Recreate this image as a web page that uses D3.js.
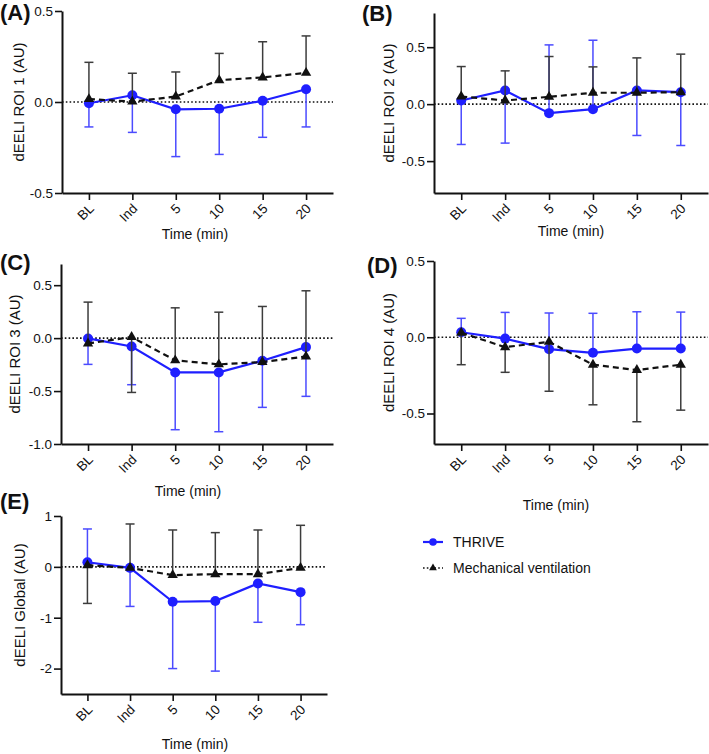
<!DOCTYPE html>
<html>
<head>
<meta charset="utf-8">
<script src="https://cdn.jsdelivr.net/npm/d3@7"></script>
<style>
  html, body { margin: 0; padding: 0; background: #fff; }
  svg { display: block; font-family: "Liberation Sans", Arial, Helvetica, sans-serif; }
</style>
</head>
<body>
<svg id="chart" width="709" height="754"></svg>
<script>
// ---------------- DATA ----------------
const categories = ["BL", "Ind", "5", "10", "15", "20"];
const seriesNames = ["THRIVE", "Mechanical ventilation"];

// Panel A – ROI 1
const thriveA = [-0.007, 0.037, -0.040, -0.037, 0.007, 0.070];
const thriveSdA = [-0.130, -0.204, -0.260, -0.251, -0.201, -0.207];
const mvA = [0.016, 0.002, 0.030, 0.120, 0.135, 0.160];
const mvSdA = [0.202, 0.156, 0.135, 0.147, 0.196, 0.203];
const ticksA = [-0.5, 0, 0.5];

// Panel B – ROI 2
const thriveB = [0.032, 0.120, -0.079, -0.044, 0.120, 0.105];
const thriveSdB = [-0.386, -0.462, 0.599, 0.605, -0.395, -0.468];
const mvB = [0.067, 0.032, 0.064, 0.100, 0.100, 0.105];
const mvSdB = [0.263, 0.260, 0.354, 0.227, 0.306, 0.334];
const ticksB = [-0.5, 0, 0.5];

// Panel C – ROI 3
const thriveC = [-0.003, -0.079, -0.324, -0.324, -0.214, -0.085];
const thriveSdC = [-0.245, -0.361, -0.541, -0.560, -0.440, -0.465];
const mvC = [-0.050, 0.010, -0.210, -0.248, -0.226, -0.173];
const mvSdC = [0.390, -0.523, 0.496, 0.493, 0.525, 0.620];
const ticksC = [-1.0, -0.5, 0, 0.5];

// Panel D – ROI 4
const thriveD = [0.033, -0.009, -0.078, -0.102, -0.074, -0.074];
const thriveSdD = [0.091, 0.172, 0.237, 0.259, 0.241, 0.239];
const mvD = [0.030, -0.065, -0.030, -0.180, -0.215, -0.180];
const mvSdD = [-0.210, -0.165, -0.324, -0.263, -0.339, -0.298];
const ticksD = [-0.5, 0, 0.5];

// Panel E – Global
const thriveE = [0.090, -0.020, -0.686, -0.673, -0.327, -0.497];
const thriveSdE = [0.655, -0.758, -1.314, -1.377, -0.763, -0.640];
const mvE = [0.033, -0.020, -0.163, -0.144, -0.144, -0.020];
const mvSdE = [-0.752, 0.863, 0.888, 0.817, 0.869, 0.837];
const ticksE = [-2, -1, 0, 1];

const panelLabels = ["(A)", "(B)", "(C)", "(D)", "(E)"];
const yTitles = ["dEELI ROI 1 (AU)", "dEELI ROI 2 (AU)", "dEELI ROI 3 (AU)", "dEELI ROI 4 (AU)", "dEELI Global (AU)"];
const xTitle = "Time (min)";

// ---------------- LAYOUT ----------------
const BLUE = "#1f1fff", BLUE_ERR = "#4b4bff", BLACK = "#111", BLACK_ERR = "#3c3c3c";

const panels = [
  { label: panelLabels[0], yTitle: yTitles[0], thrive: thriveA, thriveSd: thriveSdA, mv: mvA, mvSd: mvSdA, ticks: ticksA, fmt: d => d.toFixed(1),
    domain: [-0.5, 0.5], x0: 62, x1: 333, yTop: 11, yBot: 193, lab: [0, 20], yTitleX: 19, xTitleX: 195, xTitleY: 239 },
  { label: panelLabels[1], yTitle: yTitles[1], thrive: thriveB, thriveSd: thriveSdB, mv: mvB, mvSd: mvSdB, ticks: ticksB, fmt: d => d.toFixed(1),
    domain: [-0.78, 0.8], x0: 434, x1: 708, yTop: 13, yBot: 193, lab: [362, 21], yTitleX: 389, xTitleX: 571, xTitleY: 236 },
  { label: panelLabels[2], yTitle: yTitles[2], thrive: thriveC, thriveSd: thriveSdC, mv: mvC, mvSd: mvSdC, ticks: ticksC, fmt: d => d.toFixed(1),
    domain: [-1.0, 0.7], x0: 61, x1: 333, yTop: 264, yBot: 444, lab: [0, 270], yTitleX: 15, xTitleX: 188, xTitleY: 496 },
  { label: panelLabels[3], yTitle: yTitles[3], thrive: thriveD, thriveSd: thriveSdD, mv: mvD, mvSd: mvSdD, ticks: ticksD, fmt: d => d.toFixed(1),
    domain: [-0.7, 0.5], x0: 434, x1: 708, yTop: 261, yBot: 444, lab: [367, 273], yTitleX: 389, xTitleX: 556, xTitleY: 510 },
  { label: panelLabels[4], yTitle: yTitles[4], thrive: thriveE, thriveSd: thriveSdE, mv: mvE, mvSd: mvSdE, ticks: ticksE, fmt: d => String(d),
    domain: [-2.5, 1], x0: 61, x1: 327, yTop: 516, yBot: 694, lab: [0, 509], yTitleX: 20, xTitleX: 195, xTitleY: 749 }
];

const svg = d3.select("#chart");
const tri = d3.symbol().type(d3.symbolTriangle).size(46);

panels.forEach(p => {
  const g = svg.append("g");
  const x = d3.scalePoint().domain(categories).range([p.x0, p.x1]).padding(0.62);
  const y = d3.scaleLinear().domain(p.domain).range([p.yBot, p.yTop]);

  // zero dotted line
  g.append("line")
    .attr("x1", p.x0).attr("x2", p.x1)
    .attr("y1", y(0)).attr("y2", y(0))
    .attr("stroke", "#111").attr("stroke-width", 1.6)
    .attr("stroke-dasharray", "1.6,2.2");

  // axes
  const ya = g.append("g").attr("transform", `translate(${p.x0},0)`)
    .call(d3.axisLeft(y).tickValues(p.ticks).tickFormat(p.fmt).tickSize(7).tickSizeOuter(0).tickPadding(2));
  ya.select(".domain").attr("stroke-width", 2).attr("stroke", "#111");
  ya.selectAll(".tick line").attr("stroke-width", 1.6).attr("stroke", "#111");
  ya.selectAll(".tick text").attr("font-size", 13.5).attr("fill", "#111");

  const xa = g.append("g").attr("transform", `translate(0,${p.yBot})`)
    .call(d3.axisBottom(x).tickSize(7).tickSizeOuter(0));
  xa.select(".domain").attr("stroke-width", 2).attr("stroke", "#111");
  xa.selectAll(".tick line").attr("stroke-width", 1.6).attr("stroke", "#111");
  xa.selectAll(".tick text")
    .attr("x", 0).attr("y", 0).attr("dy", "0.35em")
    .attr("text-anchor", "end")
    .attr("transform", "translate(2,13) rotate(-45)")
    .attr("font-size", 13.5).attr("fill", "#111");

  // titles
  g.append("text")
    .attr("x", p.xTitleX).attr("y", p.xTitleY)
    .attr("text-anchor", "middle").attr("font-size", 14).attr("fill", "#111")
    .text(xTitle);
  g.append("text")
    .attr("transform", `translate(${p.yTitleX},${(p.yTop + p.yBot) / 2}) rotate(-90)`)
    .attr("text-anchor", "middle").attr("dy", "0.35em")
    .attr("font-size", 15).attr("fill", "#111")
    .text(p.yTitle);
  g.append("text")
    .attr("x", p.lab[0]).attr("y", p.lab[1])
    .attr("font-size", 22).attr("font-weight", "bold").attr("fill", "#111")
    .text(p.label);

  const cap = 4.5;
  function drawSeries(means, sds, color, errColor, dashed, marker) {
    const pts = categories.map((c, i) => ({ c, m: means[i], e: means[i] + sds[i] }));
    // error bars
    const eb = g.append("g");
    eb.selectAll("line.v").data(pts).join("line")
      .attr("x1", d => x(d.c)).attr("x2", d => x(d.c))
      .attr("y1", d => y(d.m)).attr("y2", d => y(d.e))
      .attr("stroke", errColor).attr("stroke-width", 1.5);
    eb.selectAll("line.c").data(pts).join("line")
      .attr("x1", d => x(d.c) - cap).attr("x2", d => x(d.c) + cap)
      .attr("y1", d => y(d.e)).attr("y2", d => y(d.e))
      .attr("stroke", errColor).attr("stroke-width", 1.5);
    // line
    g.append("path").datum(pts)
      .attr("d", d3.line().x(d => x(d.c)).y(d => y(d.m)))
      .attr("fill", "none").attr("stroke", color).attr("stroke-width", 2.2)
      .attr("stroke-dasharray", dashed ? "6,4" : null);
    // markers
    if (marker === "circle") {
      g.append("g").selectAll("circle").data(pts).join("circle")
        .attr("cx", d => x(d.c)).attr("cy", d => y(d.m)).attr("r", 5).attr("fill", color);
    } else {
      g.append("g").selectAll("path").data(pts).join("path")
        .attr("d", tri).attr("transform", d => `translate(${x(d.c)},${y(d.m)})`).attr("fill", color);
    }
  }
  drawSeries(p.thrive, p.thriveSd, BLUE, BLUE_ERR, false, "circle");
  drawSeries(p.mv, p.mvSd, BLACK, BLACK_ERR, true, "triangle");
});

// ---------------- LEGEND ----------------
const leg = svg.append("g");
const legendRows = [
  { name: seriesNames[0], color: BLUE, dash: null, marker: "circle", y: 542 },
  { name: seriesNames[1], color: BLACK, dash: "1.6,2.2", marker: "triangle", y: 568 }
];
legendRows.forEach(r => {
  leg.append("line").attr("x1", 423).attr("x2", 443).attr("y1", r.y).attr("y2", r.y)
    .attr("stroke", r.color).attr("stroke-width", r.dash ? 1.6 : 2.2).attr("stroke-dasharray", r.dash);
  if (r.marker === "circle") {
    leg.append("circle").attr("cx", 433).attr("cy", r.y).attr("r", 3.8).attr("fill", r.color);
  } else {
    leg.append("path").attr("d", d3.symbol().type(d3.symbolTriangle).size(26)())
      .attr("transform", `translate(433,${r.y})`).attr("fill", r.color);
  }
  leg.append("text").attr("x", 453).attr("y", r.y).attr("dy", "0.35em")
    .attr("font-size", 14).attr("fill", "#111").text(r.name);
});
</script>
</body>
</html>
